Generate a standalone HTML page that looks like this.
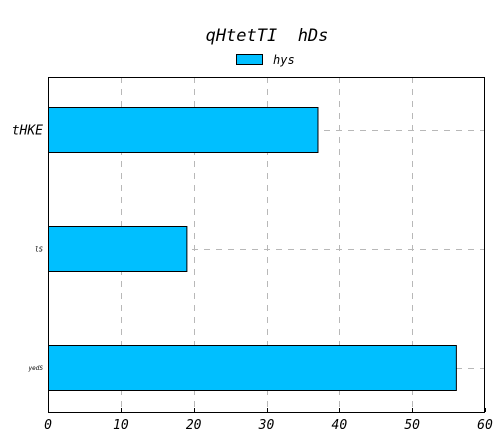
<!DOCTYPE html>
<html><head><meta charset="utf-8"><style>
body{margin:0;background:#fff}
svg{display:block}
text{font-family:"DejaVu Sans Mono","Liberation Mono",monospace;font-style:italic;fill:#000;white-space:pre}
</style></head><body>
<svg id="chart" width="504" height="441">
<text x="267" y="41" font-size="17" text-anchor="middle" xml:space="preserve">qHtetTI  hDs</text>
<rect x="236.5" y="54.5" width="26" height="10" fill="#00bfff" stroke="#000" stroke-width="1"/>
<text x="273" y="64" font-size="12">hys</text>
<g id="grid"></g>
<g id="bars"></g>
<rect x="48.5" y="77.5" width="436" height="335" fill="none" stroke="#000" stroke-width="1"/>
<g id="axes"></g>
</svg>
<script>
const categories = ["tHKE", "lS", "yedS"];
const values = [37, 19, 56];
const xTicks = [0, 10, 20, 30, 40, 50, 60];
const labelSizes = [13, 7, 6];
const ns = "http://www.w3.org/2000/svg";
const X0 = 48, X1 = 485, Y0 = 77, Y1 = 412;
function xs(v){return X0 + (v - 0) / 60 * (X1 - X0);}
function yc(i){return 130 + i * 119;}
function mk(tag, attrs, parent){const e=document.createElementNS(ns,tag);for(const k in attrs)e.setAttribute(k,attrs[k]);document.getElementById(parent).appendChild(e);return e;}
xTicks.forEach((t,i)=>{
  const x = Math.round(xs(t)) + 0.5;
  if (t>0 && t<60){
    const g = mk('line',{x1:x,x2:x,y1:Y0,y2:Y1,stroke:'#b8b8b8','stroke-dasharray':'6,6'},'grid');
    
    
  }
  const tk = mk('line',{x1:x,x2:x,y1:Y1-4,y2:Y1,stroke:'#000'},'axes');
  
  
  const lb = mk('text',{x:xs(t),y:429,'font-size':13,'text-anchor':'middle'},'axes');
  lb.textContent = t;
  
  
});
categories.forEach((c,i)=>{
  const y = Math.round(yc(i)) + 0.5;
  const g = mk('line',{x1:X0,x2:X1,y1:y,y2:y,stroke:'#b8b8b8','stroke-dasharray':'6,6'},'grid');
  
  
  const bh = 45;
  const r = mk('rect',{x:X0+0.5,y:yc(i)-bh/2,width:xs(values[i])-X0,height:bh,fill:'#00bfff',stroke:'#000','stroke-width':1},'bars');
  
  
  const lb = mk('text',{x:43,y:yc(i)+labelSizes[i]*0.35,'font-size':labelSizes[i],'text-anchor':'end'},'axes');
  lb.textContent = c;
  
  
});
</script>
</body></html>
